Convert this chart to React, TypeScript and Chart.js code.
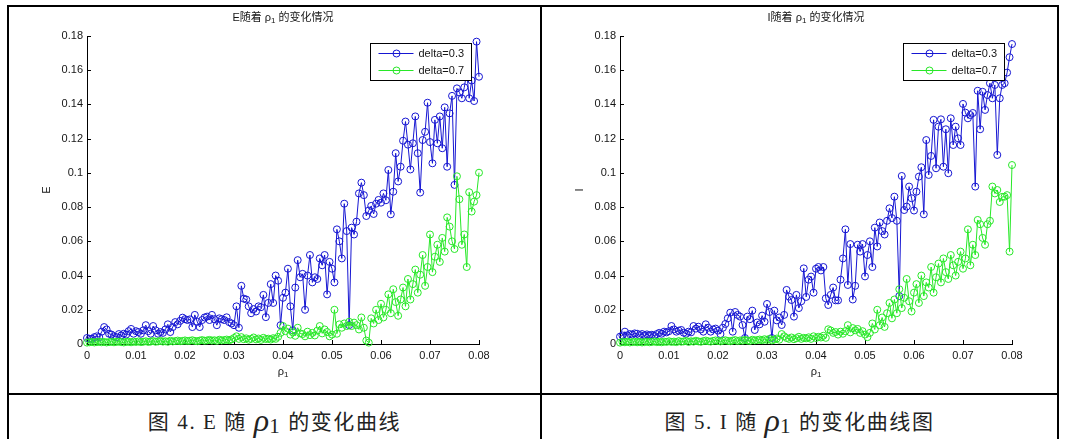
import { useEffect, useRef } from 'react';
import { Chart, registerables } from 'chart.js';

Chart.register(...registerables);

// ---------------- data ----------------
const rhoStep = 0.0005; // ρ1 spacing of the samples (0 … 0.08)

const seriesLabels = ['delta=0.3', 'delta=0.7'];

// Fig. 4: E versus ρ1
const E_delta03 = [
  0.0035, 0.003, 0.003, 0.004, 0.0045, 0.004, 0.0072, 0.0099, 0.0085, 0.006,
  0.0055, 0.0045, 0.004, 0.0058, 0.005, 0.006, 0.0055, 0.0075, 0.0088, 0.006,
  0.0075, 0.007, 0.006, 0.008, 0.011, 0.0075, 0.006, 0.0105, 0.008, 0.006,
  0.007, 0.0065, 0.0085, 0.0115, 0.007, 0.0099, 0.0128, 0.0115, 0.0135, 0.0154,
  0.0145, 0.014, 0.0144, 0.0099, 0.017, 0.013, 0.0099, 0.014, 0.0155, 0.016,
  0.014, 0.017, 0.0145, 0.011, 0.015, 0.0145, 0.014, 0.0156, 0.0128, 0.012,
  0.011, 0.022, 0.0095, 0.034, 0.0265, 0.026, 0.022, 0.018, 0.0204, 0.019,
  0.022, 0.0215, 0.0287, 0.0157, 0.024, 0.035, 0.024, 0.04, 0.037, 0.011,
  0.027, 0.03, 0.044, 0.022, 0.008, 0.033, 0.049, 0.039, 0.041, 0.02,
  0.04, 0.052, 0.036, 0.039, 0.038, 0.05, 0.046, 0.052, 0.029, 0.048,
  0.044, 0.036, 0.067, 0.06, 0.05, 0.082, 0.066, 0.011, 0.068, 0.064,
  0.0715, 0.088, 0.0943, 0.087, 0.0748, 0.078, 0.0807, 0.076, 0.082, 0.0842,
  0.0826, 0.088, 0.084, 0.1017, 0.0758, 0.089, 0.1115, 0.095, 0.1036, 0.1188,
  0.13, 0.1165, 0.102, 0.1173, 0.133, 0.1115, 0.0885, 0.1192, 0.124, 0.141,
  0.118, 0.1056, 0.131, 0.1173, 0.133, 0.1144, 0.1383, 0.1036, 0.1348, 0.145,
  0.093, 0.1494, 0.147, 0.1436, 0.15, 0.159, 0.1436, 0.154, 0.142, 0.1767,
  0.1562,
];
const E_delta07 = [
  0.0008, 0.001, 0.0012, 0.0009, 0.0011, 0.0013, 0.001, 0.0012, 0.0009, 0.0011,
  0.0013, 0.001, 0.0012, 0.0014, 0.0011, 0.0009, 0.0012, 0.0013, 0.001, 0.0014,
  0.0012, 0.0015, 0.0011, 0.0013, 0.0016, 0.0012, 0.0014, 0.0017, 0.0013, 0.0015,
  0.0018, 0.0014, 0.0016, 0.0013, 0.0019, 0.0015, 0.0017, 0.002, 0.0016, 0.0018,
  0.0021, 0.0017, 0.0019, 0.0022, 0.0018, 0.0016, 0.002, 0.0023, 0.0019, 0.0021,
  0.0024, 0.002, 0.0022, 0.0018, 0.0025, 0.0021, 0.0023, 0.0026, 0.0022, 0.0027,
  0.0035, 0.0045, 0.003, 0.004, 0.0028, 0.0033, 0.0025, 0.003, 0.0038, 0.0027,
  0.0032, 0.0024, 0.0036, 0.0029, 0.0031, 0.0026, 0.0034, 0.003, 0.0042, 0.0065,
  0.0105, 0.0075, 0.009, 0.0055, 0.0068, 0.0048, 0.0095, 0.0062, 0.0058, 0.0045,
  0.0072, 0.0052, 0.0065, 0.005, 0.0078, 0.0105, 0.0062, 0.0085, 0.007, 0.0045,
  0.0055, 0.02, 0.006, 0.0115, 0.0095, 0.012, 0.0105, 0.013, 0.0105, 0.0125,
  0.011, 0.0085, 0.0155, 0.0095, 0.002, 0.0008, 0.015, 0.012, 0.02, 0.014,
  0.0235, 0.0155, 0.02, 0.029, 0.018, 0.032, 0.0245, 0.0165, 0.026, 0.033,
  0.022, 0.038, 0.026, 0.035, 0.0435, 0.03, 0.0405, 0.052, 0.034, 0.045,
  0.064, 0.042, 0.051, 0.058, 0.048, 0.062, 0.054, 0.074, 0.0686, 0.06,
  0.0555, 0.098, 0.0846, 0.058, 0.064, 0.045, 0.0887, 0.0774, 0.0832, 0.087,
  0.1001,
];

// Fig. 5: I versus ρ1
const I_delta03 = [
  0.0043, 0.005, 0.0072, 0.005, 0.0058, 0.0055, 0.0062, 0.006, 0.0052, 0.0058,
  0.005, 0.0056, 0.005, 0.0054, 0.0048, 0.0058, 0.0065, 0.006, 0.0072, 0.0068,
  0.0075, 0.0105, 0.0085, 0.0072, 0.0078, 0.0082, 0.0066, 0.006, 0.0072, 0.0068,
  0.0105, 0.009, 0.0101, 0.0085, 0.0072, 0.0115, 0.0095, 0.0072, 0.0085, 0.009,
  0.0078, 0.0058, 0.0095, 0.0117, 0.015, 0.0183, 0.0072, 0.0187, 0.017, 0.016,
  0.0111, 0.0035, 0.016, 0.0145, 0.0195, 0.0082, 0.0126, 0.0115, 0.0166, 0.013,
  0.0234, 0.0187, 0.0035, 0.0195, 0.0138, 0.0155, 0.0111, 0.017, 0.0316, 0.0277,
  0.0257, 0.016, 0.0287, 0.021, 0.025, 0.0442, 0.0275, 0.0376, 0.0394, 0.03,
  0.044, 0.045, 0.043, 0.045, 0.0267, 0.0228, 0.0287, 0.033, 0.0255, 0.0255,
  0.0376, 0.05, 0.067, 0.0345, 0.0584, 0.026, 0.034, 0.058, 0.054, 0.0584,
  0.0395, 0.052, 0.06, 0.045, 0.068, 0.057, 0.071, 0.066, 0.064, 0.072,
  0.0793, 0.0736, 0.0861, 0.072, 0.028, 0.0982, 0.0783, 0.0803, 0.092, 0.0852,
  0.078, 0.089, 0.0978, 0.1033, 0.0758, 0.1192, 0.0988, 0.1099, 0.131, 0.1027,
  0.127, 0.1313, 0.1036, 0.1255, 0.0998, 0.1319, 0.1163, 0.127, 0.1202, 0.1163,
  0.1403, 0.1352, 0.1319, 0.1338, 0.135, 0.092, 0.148, 0.1255, 0.1474, 0.1368,
  0.1455, 0.1524, 0.1436, 0.1514, 0.1105, 0.1436, 0.1514, 0.1524, 0.1586, 0.1676,
  0.1753,
];
const I_delta07 = [
  0.0008, 0.0012, 0.001, 0.0014, 0.0009, 0.0011, 0.0013, 0.001, 0.0012, 0.0009,
  0.0011, 0.0014, 0.001, 0.0012, 0.0015, 0.0011, 0.0013, 0.001, 0.0014, 0.0012,
  0.0016, 0.0012, 0.0014, 0.0011, 0.0017, 0.0013, 0.0015, 0.0018, 0.0012, 0.0016,
  0.0014, 0.0019, 0.0015, 0.0013, 0.0017, 0.002, 0.0016, 0.0014, 0.0018, 0.0021,
  0.0017, 0.0015, 0.0019, 0.0022, 0.0018, 0.0016, 0.002, 0.0023, 0.0017, 0.0021,
  0.0019, 0.0024, 0.002, 0.0018, 0.0025, 0.0021, 0.0023, 0.0026, 0.0022, 0.0028,
  0.0024, 0.003, 0.0021, 0.0026, 0.0032, 0.0025, 0.0058, 0.0045, 0.0035, 0.003,
  0.0038, 0.0028, 0.0034, 0.0042, 0.003, 0.0036, 0.0033, 0.0039, 0.003, 0.0045,
  0.0035, 0.0042, 0.0038, 0.0048, 0.0036, 0.0086, 0.0079, 0.0065, 0.007, 0.0055,
  0.0072, 0.006, 0.0075, 0.011, 0.0068, 0.0093, 0.008, 0.0088, 0.0065, 0.0075,
  0.0055, 0.004, 0.0065, 0.012, 0.0085, 0.02, 0.011, 0.0155, 0.01, 0.018,
  0.024, 0.015, 0.026, 0.018, 0.032, 0.021, 0.027, 0.038, 0.025, 0.019,
  0.03, 0.035, 0.024, 0.04, 0.028, 0.036, 0.033, 0.045, 0.03, 0.039,
  0.047, 0.036, 0.05, 0.042, 0.038, 0.052, 0.046, 0.04, 0.048, 0.054,
  0.044, 0.05, 0.067, 0.046, 0.058, 0.052, 0.0725, 0.07, 0.062, 0.058,
  0.07, 0.072, 0.092, 0.088, 0.09, 0.083, 0.086, 0.0861, 0.087, 0.054,
  0.1046,
];

const xTicks = [0, 0.01, 0.02, 0.03, 0.04, 0.05, 0.06, 0.07, 0.08];
const xTickLabels = ['0', '0.01', '0.02', '0.03', '0.04', '0.05', '0.06', '0.07', '0.08'];
const yTicks = [0, 0.02, 0.04, 0.06, 0.08, 0.1, 0.12, 0.14, 0.16, 0.18];
const yTickLabels = ['0', '0.02', '0.04', '0.06', '0.08', '0.1', '0.12', '0.14', '0.16', '0.18'];

// ---------------- style ----------------
const FONT = '"Liberation Sans", Arial, "Noto Sans CJK SC", sans-serif';
const SERIF = '"Liberation Serif", "Times New Roman", "Noto Sans CJK SC", serif';
const BLUE = 'rgb(22,22,210)';
const GREEN = 'rgb(40,232,40)';
const INK = '#151515';

type Seg = { text: string; sub?: boolean };

function drawRich(ctx: CanvasRenderingContext2D, segs: Seg[], cx: number, cy: number, size: number) {
  const subSize = Math.round(size * 0.72);
  let total = 0;
  const widths = segs.map((s) => {
    ctx.font = `${s.sub ? subSize : size}px ${FONT}`;
    const w = ctx.measureText(s.text).width;
    total += w;
    return w;
  });
  let x = cx - total / 2;
  ctx.textAlign = 'left';
  ctx.textBaseline = 'middle';
  segs.forEach((s, i) => {
    ctx.font = `${s.sub ? subSize : size}px ${FONT}`;
    ctx.fillText(s.text, x, cy + (s.sub ? 3 : 0));
    x += widths[i];
  });
}

function makePlugin(yName: string) {
  return {
    id: 'matlabDecor',
    beforeDatasetsDraw(chart: any) {
      const { ctx, chartArea: a, scales } = chart;
      const xs = scales.x;
      const ys = scales.y;
      ctx.save();
      ctx.strokeStyle = '#000';
      ctx.lineWidth = 1;
      ctx.beginPath();
      for (const v of xTicks) {
        const px = Math.round(xs.getPixelForValue(v)) + 0.5;
        ctx.moveTo(px, a.bottom);
        ctx.lineTo(px, a.bottom - 4);
      }
      for (const v of yTicks) {
        const py = Math.round(ys.getPixelForValue(v)) + 0.5;
        ctx.moveTo(a.left, py);
        ctx.lineTo(a.left + 4, py);
      }
      ctx.stroke();
      ctx.restore();
    },
    afterDatasetsDraw(chart: any) {
      const { ctx, chartArea: a } = chart;
      const w = 101;
      const h = 37;
      const bx = Math.round(a.right - 8 - w) + 0.5;
      const by = Math.round(a.top + 7) + 0.5;
      ctx.save();
      ctx.fillStyle = '#fff';
      ctx.fillRect(bx, by, w, h);
      ctx.strokeStyle = '#000';
      ctx.lineWidth = 1;
      ctx.strokeRect(bx, by, w, h);
      const colors = [BLUE, GREEN];
      seriesLabels.forEach((label, i) => {
        const ry = by + 10 + i * 17;
        ctx.strokeStyle = colors[i];
        ctx.beginPath();
        ctx.moveTo(bx + 8, ry);
        ctx.lineTo(bx + 43, ry);
        ctx.stroke();
        ctx.beginPath();
        ctx.arc(bx + 26, ry, 3.5, 0, Math.PI * 2);
        ctx.stroke();
        ctx.fillStyle = INK;
        ctx.font = `11px ${FONT}`;
        ctx.textAlign = 'left';
        ctx.textBaseline = 'middle';
        ctx.fillText(label, bx + 48, ry);
      });
      ctx.restore();
    },
    afterDraw(chart: any) {
      const { ctx, chartArea: a } = chart;
      const cx = (a.left + a.right) / 2;
      ctx.save();
      ctx.fillStyle = INK;
      drawRich(ctx, [{ text: `${yName}随着 ρ` }, { text: '1', sub: true }, { text: ' 的变化情况' }], cx, a.top - 18, 11);
      drawRich(ctx, [{ text: 'ρ' }, { text: '1', sub: true }], cx, a.bottom + 28, 11);
      ctx.translate(a.left - 40, (a.top + a.bottom) / 2);
      ctx.rotate(-Math.PI / 2);
      drawRich(ctx, [{ text: yName }], 0, 0, 11);
      ctx.restore();
    },
  };
}

function toPoints(vals: number[]) {
  return vals.map((v, i) => ({ x: +(i * rhoStep).toFixed(4), y: v }));
}

type ChartProps = {
  yName: string;
  blue: number[];
  green: number[];
  left: number;
  width: number;
};

const CANVAS_TOP = 8;
const CANVAS_H = 384;
const AREA_LEFT = 77;
const AREA_TOP = 28;
const AREA_BOTTOM_SPACE = 48;

function MatlabChart({ yName, blue, green, left, width }: ChartProps) {
  const ref = useRef<HTMLCanvasElement>(null);
  const areaWidth = 392;
  useEffect(() => {
    const canvas = ref.current;
    if (!canvas) return;
    const rightPad = width - AREA_LEFT - areaWidth;
    const chart = new Chart(canvas, {
      type: 'line',
      data: {
        datasets: [
          {
            label: seriesLabels[0],
            data: toPoints(blue),
            borderColor: BLUE,
            backgroundColor: 'rgba(0,0,0,0)',
            borderWidth: 1,
            pointRadius: 3.5,
            pointBorderWidth: 1,
            pointBorderColor: BLUE,
            pointBackgroundColor: 'rgba(0,0,0,0)',
            tension: 0,
            clip: false as any,
            order: 1,
          },
          {
            label: seriesLabels[1],
            data: toPoints(green),
            borderColor: GREEN,
            backgroundColor: 'rgba(0,0,0,0)',
            borderWidth: 1,
            pointRadius: 3.5,
            pointBorderWidth: 1,
            pointBorderColor: GREEN,
            pointBackgroundColor: 'rgba(0,0,0,0)',
            tension: 0,
            clip: false as any,
            order: 0,
          },
        ],
      },
      options: {
        responsive: false,
        animation: false,
        devicePixelRatio: 1,
        events: [],
        layout: { padding: { left: 0, top: AREA_TOP, right: rightPad, bottom: 0 } },
        plugins: {
          legend: { display: false },
          tooltip: { enabled: false },
          title: { display: false },
        },
        scales: {
          x: {
            type: 'linear',
            min: 0,
            max: 0.08,
            afterBuildTicks: (s: any) => {
              s.ticks = xTicks.map((v) => ({ value: v }));
            },
            afterFit: (s: any) => {
              s.height = AREA_BOTTOM_SPACE;
            },
            ticks: {
              autoSkip: false,
              maxRotation: 0,
              padding: 5,
              color: INK,
              font: { family: FONT, size: 11 },
              callback: (_v: any, i: number) => xTickLabels[i],
            },
            grid: { drawOnChartArea: false, drawTicks: false },
            border: { display: true, color: '#000', width: 1 },
          },
          y: {
            type: 'linear',
            min: 0,
            max: 0.18,
            afterBuildTicks: (s: any) => {
              s.ticks = yTicks.map((v) => ({ value: v }));
            },
            afterFit: (s: any) => {
              s.width = AREA_LEFT;
            },
            ticks: {
              autoSkip: false,
              padding: 4,
              color: INK,
              font: { family: FONT, size: 11 },
              callback: (_v: any, i: number) => yTickLabels[i],
            },
            grid: { drawOnChartArea: false, drawTicks: false },
            border: { display: true, color: '#000', width: 1 },
          },
        },
      } as any,
      plugins: [makePlugin(yName)],
    });
    return () => chart.destroy();
  }, [yName, blue, green, width]);
  return (
    <canvas
      ref={ref}
      width={width}
      height={CANVAS_H}
      style={{ position: 'absolute', left, top: CANVAS_TOP, width, height: CANVAS_H }}
    />
  );
}

function Caption({ left, width, num, name, tail }: { left: number; width: number; num: string; name: string; tail: string }) {
  return (
    <div
      style={{
        position: 'absolute',
        left,
        top: 396,
        width,
        height: 43,
        display: 'flex',
        alignItems: 'center',
        justifyContent: 'center',
        fontFamily: SERIF,
        fontSize: 21,
        letterSpacing: 1.6,
        color: '#222',
        whiteSpace: 'pre',
        paddingTop: 4,
        boxSizing: 'border-box',
      }}
    >
      <span>{`图 ${num}. ${name} 随 `}</span>
      <span style={{ fontFamily: '"Liberation Serif", serif', fontStyle: 'italic', fontSize: 32, lineHeight: '30px', letterSpacing: 0 }}>ρ</span>
      <span style={{ fontFamily: '"Liberation Serif", serif', fontSize: 21, position: 'relative', top: 7 }}>1</span>
      <span>{` ${tail}`}</span>
    </div>
  );
}

const line = (l: number, t: number, w: number, h: number) => (
  <div style={{ position: 'absolute', left: l, top: t, width: w, height: h, background: '#000' }} />
);

export default function App() {
  return (
    <div style={{ position: 'absolute', left: 0, top: 0, width: 1066, height: 439, background: '#fff', overflow: 'hidden' }}>
      {line(7, 5, 1052, 2)}
      {line(7, 5, 2, 440)}
      {line(540, 5, 2, 440)}
      {line(1057, 5, 2, 440)}
      {line(7, 393, 1052, 2)}
      <MatlabChart yName="E" blue={E_delta03} green={E_delta07} left={10} width={529} />
      <MatlabChart yName="I" blue={I_delta03} green={I_delta07} left={543} width={513} />
      <Caption left={9} width={531} num="4" name="E" tail="的变化曲线" />
      <Caption left={542} width={515} num="5" name="I" tail="的变化曲线图" />
    </div>
  );
}
